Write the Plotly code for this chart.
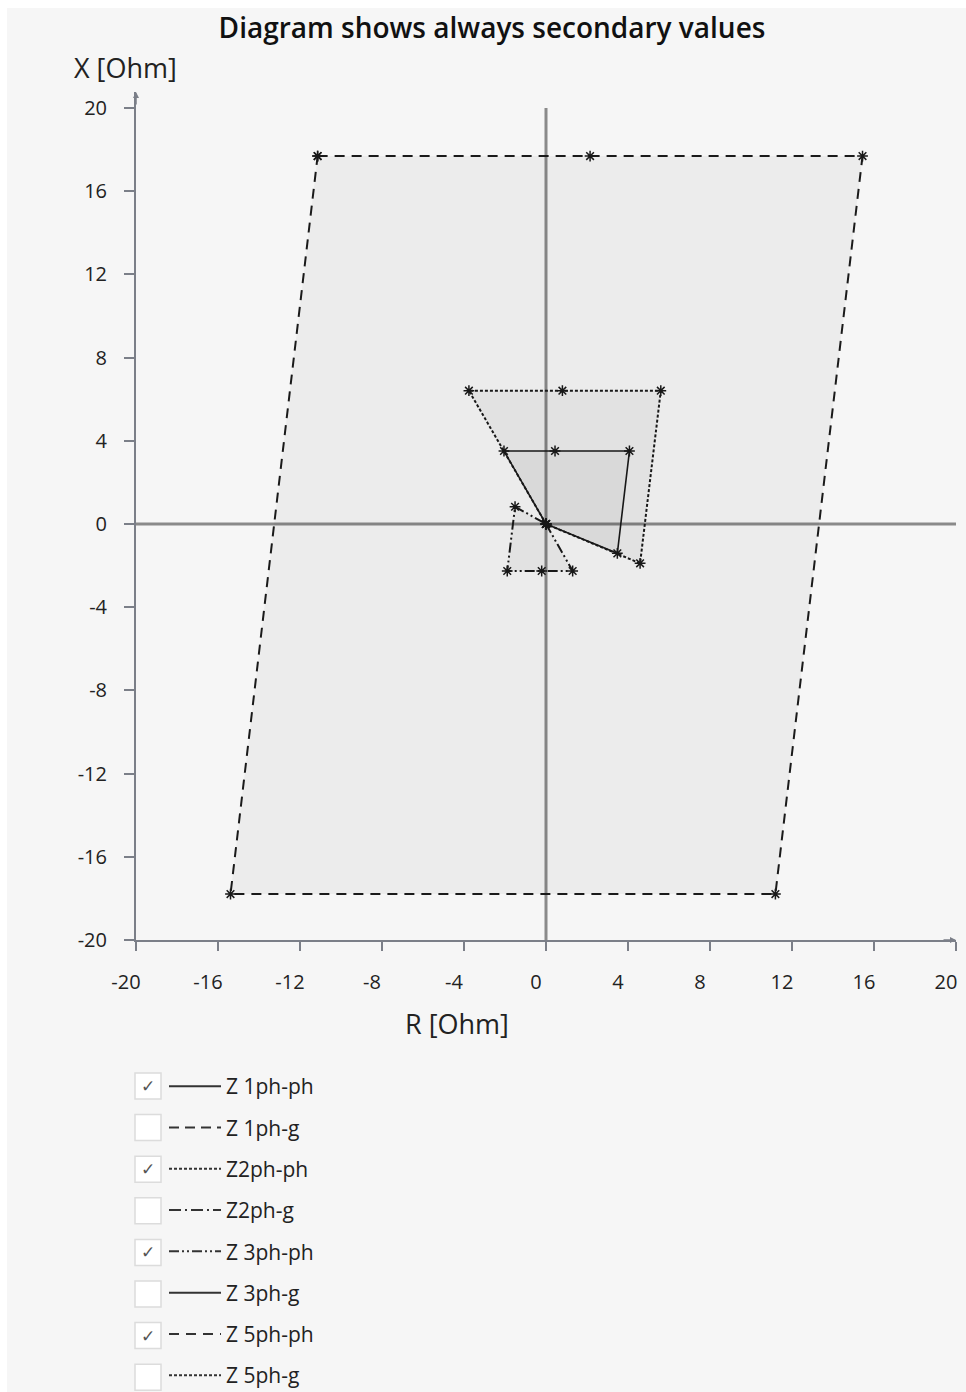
import plotly.graph_objects as go

# ---------------- data (Ohm, secondary values) ----------------
series_names = ["Z 1ph-ph", "Z 1ph-g", "Z2ph-ph", "Z2ph-g",
                "Z 3ph-ph", "Z 3ph-g", "Z 5ph-ph", "Z 5ph-g"]
series_checked = [True, False, True, False, True, False, True, False]
series_dash = ["solid", "10px,6px", "3px,2px", "12px,4px,2px,4px",
               "10px,3px,2px,3px,2px,3px", "solid", "10px,7px", "3px,2px"]

# polygons of the enabled zones
z1phph_r = [0.0, -2.05, 0.44, 4.07, 3.48, 0.0]
z1phph_x = [0.0, 3.51, 3.51, 3.51, -1.41, 0.0]

z2phph_r = [0.0, -3.76, 0.80, 5.60, 4.59, 0.0]
z2phph_x = [0.0, 6.41, 6.41, 6.41, -1.89, 0.0]

z3phph_r = [0.0, 1.30, -0.21, -1.89, -1.51, 0.0]
z3phph_x = [0.0, -2.26, -2.26, -2.26, 0.83, 0.0]

z5phph_r = [-11.14, 2.15, 15.44, 11.19, -15.39, -11.14]
z5phph_x = [17.69, 17.69, 17.69, -17.79, -17.79, 17.69]

tick_vals = [-20, -16, -12, -8, -4, 0, 4, 8, 12, 16, 20]
tick_text = [str(v) for v in tick_vals]

# ---------------- layout geometry ----------------
W, H = 966, 1392
L, R, T, B = 136, 10, 92, 452
PW, PH = W - L - R, H - T - B


def px_x(px):
    return (px - L) / PW


def px_y(py):
    return (H - B - py) / PH


FONT = "Open Sans"
AX_COL = "#7b7f88"
LINE_COL = "#1a1a1a"
FILL = "rgba(0,0,0,0.04)"

fig = go.Figure()

zones = [
    ("Z 1ph-ph", z1phph_r, z1phph_x, series_dash[0], 1.6),
    ("Z2ph-ph", z2phph_r, z2phph_x, series_dash[2], 2.0),
    ("Z 3ph-ph", z3phph_r, z3phph_x, series_dash[4], 2.0),
    ("Z 5ph-ph", z5phph_r, z5phph_x, series_dash[6], 2.0),
]
for name, rr, xx, dash, lw in zones:
    fig.add_trace(go.Scatter(
        x=rr, y=xx, mode="lines+markers", name=name, showlegend=False,
        fill="toself", fillcolor=FILL,
        line=dict(color=LINE_COL, width=lw, dash=dash),
        marker=dict(symbol="asterisk-open", size=9,
                    line=dict(color="#111111", width=1.5)),
        hoverinfo="x+y+name",
    ))

# legend entries (line samples only)
for i, (nm, dash) in enumerate(zip(series_names, series_dash)):
    fig.add_trace(go.Scatter(
        x=[None], y=[None], mode="lines", name=nm, legendgroup="g%d" % i,
        line=dict(color="#333333", width=2, dash=dash), showlegend=True,
    ))

# axes cross lines (R = 0 and X = 0)
shapes = [
    dict(type="line", xref="x", yref="y", x0=0, x1=0, y0=-20, y1=20,
         line=dict(color="#8a8a8a", width=3), layer="below"),
    dict(type="line", xref="x", yref="y", x0=-20, x1=20, y0=0, y1=0,
         line=dict(color="#8a8a8a", width=3), layer="below"),
]

# white frame strips of the screenshot
shapes += [
    dict(type="rect", xref="paper", yref="paper", x0=px_x(0), x1=px_x(7),
         y0=px_y(H), y1=px_y(0), fillcolor="white", line=dict(width=0), layer="below"),
    dict(type="rect", xref="paper", yref="paper", x0=px_x(0), x1=px_x(W),
         y0=px_y(8), y1=px_y(0), fillcolor="white", line=dict(width=0), layer="below"),
]

annotations = []
# legend checkboxes
row0, row_step = 1086, 41.6
for i, chk in enumerate(series_checked):
    cy = row0 + i * row_step
    shapes.append(dict(type="rect", xref="paper", yref="paper",
                       x0=px_x(135), x1=px_x(161), y0=px_y(cy + 13), y1=px_y(cy - 13),
                       fillcolor="white", line=dict(color="#dcdcdc", width=1.5)))
    if chk:
        annotations.append(dict(xref="paper", yref="paper", x=px_x(148), y=px_y(cy),
                                text="✓", showarrow=False, xanchor="center", yanchor="middle",
                                font=dict(family="DejaVu Sans", size=17, color="#555555")))

# axis titles
annotations.append(dict(xref="paper", yref="paper", x=px_x(125), y=px_y(68),
                        text="X [Ohm]", showarrow=False, xanchor="center", yanchor="middle",
                        font=dict(family=FONT, size=27, color="#222222")))
annotations.append(dict(xref="paper", yref="paper", x=px_x(457), y=px_y(1023),
                        text="R [Ohm]", showarrow=False, xanchor="center", yanchor="middle",
                        font=dict(family=FONT, size=27, color="#222222")))
# axis arrows
annotations.append(dict(xref="x", yref="y", x=20, y=-20, ax=-14, ay=0, text="",
                        showarrow=True, arrowhead=2, arrowsize=0.8, arrowwidth=1.5,
                        arrowcolor=AX_COL))
annotations.append(dict(xref="x", yref="y", x=-20, y=20.77, ax=0, ay=14, text="",
                        showarrow=True, arrowhead=2, arrowsize=0.8, arrowwidth=1.5,
                        arrowcolor=AX_COL))

fig.update_layout(
    width=W, height=H,
    margin=dict(l=L, r=R, t=T, b=B, pad=0, autoexpand=False),
    paper_bgcolor="#f6f6f6", plot_bgcolor="#f6f6f6",
    title=dict(text="Diagram shows always secondary values", xref="paper",
               x=px_x(492), xanchor="center", y=1 - 28 / H, yanchor="middle",
               font=dict(family=FONT, size=28, color="#111111", weight=600)),
    font=dict(family=FONT, size=20, color="#222222"),
    showlegend=True,
    legend=dict(x=px_x(164), y=px_y(1066), xanchor="left", yanchor="top",
                bgcolor="rgba(0,0,0,0)", traceorder="grouped", tracegroupgap=11,
                itemwidth=52, itemclick=False, itemdoubleclick=False,
                font=dict(family=FONT, size=21, color="#222222")),
    shapes=shapes, annotations=annotations,
)
fig.update_xaxes(range=[-20, 20], tickvals=tick_vals, ticktext=tick_text,
                 showgrid=False, zeroline=False, showline=True, linecolor=AX_COL,
                 linewidth=2, ticks="outside", ticklen=9, tickwidth=1.5, tickcolor=AX_COL,
                 ticklabelshift=-10, ticklabelstandoff=14,
                 tickfont=dict(family=FONT, size=20, color="#222222"), fixedrange=True)
fig.update_yaxes(range=[-20, 20.77], tickvals=tick_vals, ticktext=tick_text,
                 showgrid=False, zeroline=False, showline=True, linecolor=AX_COL,
                 linewidth=2, ticks="outside", ticklen=10, tickwidth=1.5, tickcolor=AX_COL,
                 ticklabelstandoff=13,
                 tickfont=dict(family=FONT, size=20, color="#222222"), fixedrange=True)

fig.write_html("out.html", config={"displayModeBar": False},
               post_script="document.body.style.margin='0px';")
